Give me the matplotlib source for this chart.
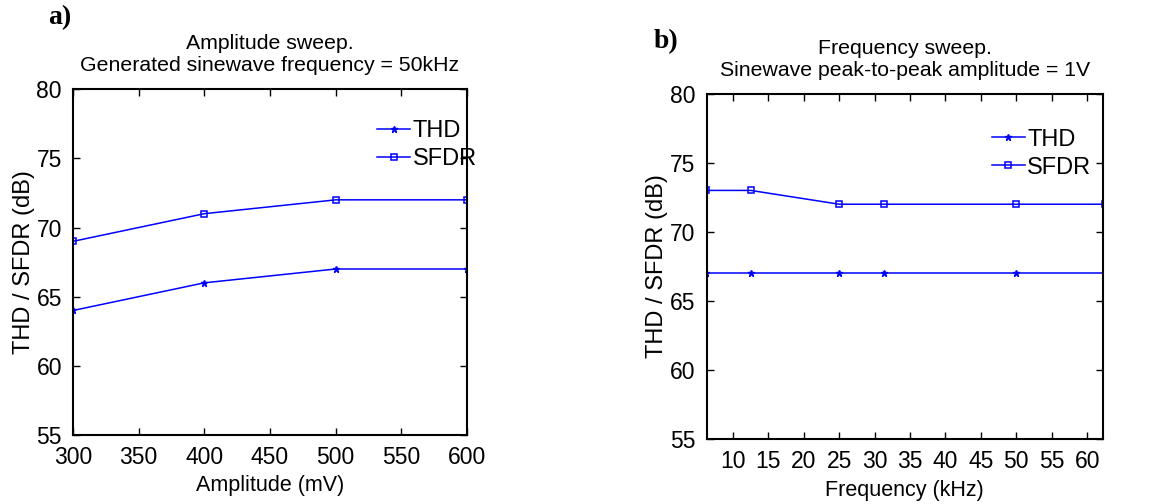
import matplotlib
matplotlib.use("Agg")
import matplotlib.pyplot as plt

plt.rcParams['font.family'] = ['Liberation Sans', 'DejaVu Sans']

# Panel a: amplitude sweep
amp_mv = [300, 400, 500, 600]
amp_thd = [64, 66, 67, 67]
amp_sfdr = [69, 71, 72, 72]

# Panel b: frequency sweep
freq_khz = [6.25, 12.5, 25, 31.25, 50, 62.5]
freq_thd = [67, 67, 67, 67, 67, 67]
freq_sfdr = [73, 73, 72, 72, 72, 72]

amp_ticks = [300, 350, 400, 450, 500, 550, 600]
freq_ticks = [10, 15, 20, 25, 30, 35, 40, 45, 50, 55, 60]
y_ticks = [55, 60, 65, 70, 75, 80]

fig = plt.figure(figsize=(11.76, 5.04), dpi=100)
axa = fig.add_axes([0.0621, 0.137, 0.335, 0.686])
axb = fig.add_axes([0.601, 0.129, 0.3367, 0.685])

blue = '#0000ff'

def style(ax, lpad):
    ax.tick_params(direction='in', top=True, right=True, labelsize=16.5,
                   length=5, width=1, pad=8)
    for s in ax.spines.values():
        s.set_linewidth(1.5)
    ax.set_ylim(55, 80)
    ax.set_yticks(y_ticks)
    ax.set_ylabel('THD / SFDR (dB)', fontsize=17, labelpad=lpad)

axa.plot(amp_mv, amp_thd, color=blue, lw=1.1, marker='*', ms=5, label='THD')
axa.plot(amp_mv, amp_sfdr, color=blue, lw=1.1, marker='s', ms=5, mfc='none', mew=1.1, label='SFDR')
axa.set_xlim(300, 600)
axa.set_xticks(amp_ticks)
style(axa, 1.0)
axa.set_xlabel('Amplitude (mV)', fontsize=15.5, labelpad=4)
axa.set_title('Amplitude sweep.\nGenerated sinewave frequency = 50kHz', fontsize=15.3, pad=13, linespacing=1.2)
axa.legend(loc='upper left', bbox_to_anchor=(0.742, 0.945), frameon=False, fontsize=17,
           handlelength=1.4, handletextpad=0.1, borderpad=0, labelspacing=0.25)

axb.plot(freq_khz, freq_thd, color=blue, lw=1.1, marker='*', ms=5, label='THD')
axb.plot(freq_khz, freq_sfdr, color=blue, lw=1.1, marker='s', ms=5, mfc='none', mew=1.1, label='SFDR')
axb.set_xlim(6.3, 62.2)
axb.set_xticks(freq_ticks)
style(axb, 1.5)
axb.set_xlabel('Frequency (kHz)', fontsize=15.5, labelpad=5)
axb.set_title('Frequency sweep.\nSinewave peak-to-peak amplitude = 1V', fontsize=15.3, pad=13, linespacing=1.2)
axb.legend(loc='upper left', bbox_to_anchor=(0.69, 0.933), frameon=False, fontsize=17,
           handlelength=1.4, handletextpad=0.1, borderpad=0, labelspacing=0.25)

fig.text(48/1176, 1 - 18/504, 'a)', fontsize=20, fontweight='bold', family='Liberation Serif', va='center')
fig.text(654/1176, 1 - 42/504, 'b)', fontsize=20, fontweight='bold', family='Liberation Serif', va='center')

fig.savefig('out.png', dpi=100)
